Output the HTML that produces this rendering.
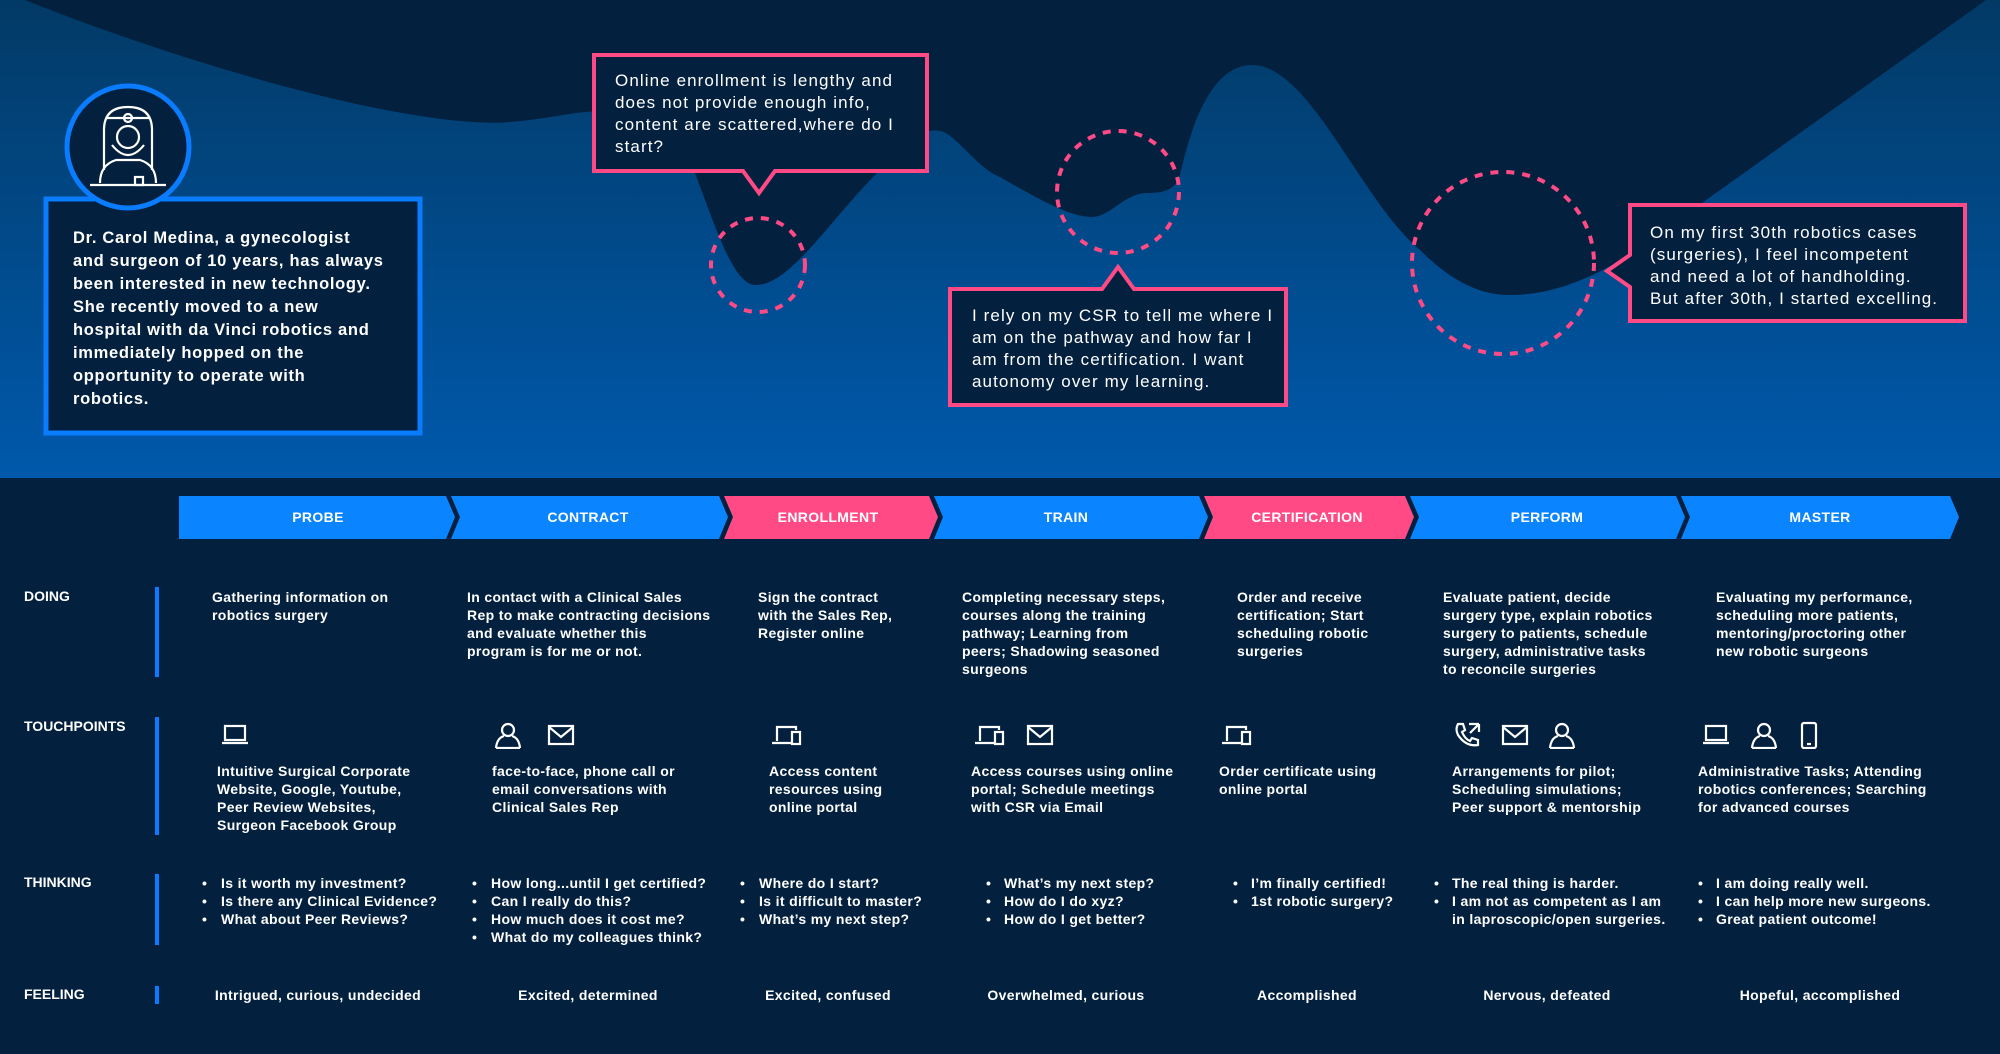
<!DOCTYPE html>
<html><head><meta charset="utf-8"><style>
html,body{margin:0;padding:0;background:#03213f;}
svg{display:block;font-family:"Liberation Sans",sans-serif;}
.s{fill:#fff;font-size:14px;font-weight:bold;letter-spacing:0.35px;}
.c{fill:#fff;font-size:17px;letter-spacing:1.1px;}
.p{fill:#fff;font-size:16.5px;font-weight:bold;letter-spacing:0.7px;}
.h{fill:#fff;font-size:14px;text-anchor:middle;font-weight:bold;letter-spacing:0.35px;}
.rl{fill:#fff;font-size:14px;font-weight:bold;}
.ic{fill:none;stroke:#fff;stroke-width:2.2;}
</style></head><body>
<svg width="2000" height="1054" viewBox="0 0 2000 1054">
<defs>
<linearGradient id="g" x1="0" y1="0" x2="0" y2="1">
<stop offset="0" stop-color="#023a66"/><stop offset="1" stop-color="#0059ac"/></linearGradient>
<symbol id="laptop" viewBox="0 0 30 28"><rect x="5" y="5" width="20" height="14" class="ic"/><line x1="2" y1="22" x2="28" y2="22" class="ic"/></symbol>
<symbol id="mail" viewBox="0 0 30 28"><rect x="3" y="5" width="24" height="18" class="ic"/><polyline points="3,6 15,16 27,6" class="ic"/></symbol>
<symbol id="person" viewBox="0 0 30 28"><circle cx="15" cy="9" r="6" class="ic"/><path d="M3 27 Q4 17 11 15 M27 27 Q26 17 19 15 M3 27 H27" class="ic"/></symbol>
<symbol id="devices" viewBox="0 0 34 28"><path d="M7 20 V6 H26 V9 M2 22 H21" class="ic"/><rect x="22" y="11" width="8" height="12" class="ic"/></symbol>
<symbol id="phone" viewBox="0 0 30 28"><rect x="8" y="2" width="14" height="25" rx="2" class="ic"/><line x1="13" y1="23" x2="17" y2="23" class="ic"/></symbol>
<symbol id="call" viewBox="0 0 30 28"><path d="M6 3 L11 3 L13 9 L10 11 Q13 18 18 20 L20 17 L26 19 L26 24 Q14 26 6 14 Q3 8 6 3 Z" class="ic"/><path d="M17 3 L27 3 M27 3 L27 11 M27 3 L18 12" class="ic"/></symbol>
</defs>

<rect x="0" y="0" width="2000" height="479" fill="url(#g)"/>
<path fill="#03213f" d="M25 0 C200 70 420 130 510 122 C560 118 580 108 620 112 L695 173 C720 240 735 285 756 285 C790 285 830 220 877 173 C910 140 925 125 944 132 C960 140 980 170 1000 177 C1040 200 1070 217 1092 217 C1110 217 1125 193 1147 193 C1165 193 1175 190 1180 175 C1190 130 1210 65 1252 65 C1310 65 1360 200 1420 250 C1460 290 1490 295 1510 295 C1580 295 1640 250 1702 203 L2000 -10 L2000 0 Z"/>
<rect x="0" y="478" width="2000" height="2" fill="#03213f"/>

<rect x="46" y="199" width="374" height="234" fill="#03213f" stroke="#0a7cff" stroke-width="5"/>
<circle cx="128" cy="147" r="61" fill="#03213f" stroke="#0a7cff" stroke-width="5"/>
<g class="ic" stroke-width="2">
<path d="M104 130 Q104 107 128 107 Q152 107 152 130 V170 M104 130 V170"/>
<circle cx="128" cy="118" r="4"/><line x1="106" y1="118" x2="150" y2="118"/>
<circle cx="128" cy="137" r="11"/>
<path d="M112 145 Q128 165 144 145"/>
<path d="M100 183 Q100 165 116 160 L140 160 Q156 165 156 183"/>
<line x1="90" y1="185" x2="166" y2="185"/><rect x="135" y="177" width="8" height="8"/>
</g>
<text class="p">
<tspan x="73" y="243">Dr. Carol Medina, a gynecologist</tspan>
<tspan x="73" y="266">and surgeon of 10 years, has always</tspan>
<tspan x="73" y="289">been interested in new technology.</tspan>
<tspan x="73" y="312">She recently moved to a new</tspan>
<tspan x="73" y="335">hospital with da Vinci robotics and</tspan>
<tspan x="73" y="358">immediately hopped on the</tspan>
<tspan x="73" y="381">opportunity to operate with</tspan>
<tspan x="73" y="404">robotics.</tspan></text>

<circle cx="758" cy="265" r="47" fill="none" stroke="#ff4a86" stroke-width="4" stroke-dasharray="8 8"/>
<path d="M594 55 H927 V171 H775 L759 193 L743 171 H594 Z" fill="#03213f" stroke="#ff4a86" stroke-width="4"/>
<text class="c">
<tspan x="615" y="86">Online enrollment is lengthy and</tspan>
<tspan x="615" y="108">does not provide enough info,</tspan>
<tspan x="615" y="130">content are scattered,where do I</tspan>
<tspan x="615" y="152">start?</tspan></text>

<circle cx="1118" cy="192" r="61" fill="none" stroke="#ff4a86" stroke-width="4" stroke-dasharray="8 8"/>
<path d="M950 289 H1102 L1118 267 L1134 289 H1286 V405 H950 Z" fill="#03213f" stroke="#ff4a86" stroke-width="4"/>
<text class="c">
<tspan x="972" y="321">I rely on my CSR to tell me where I</tspan>
<tspan x="972" y="343">am on the pathway and how far I</tspan>
<tspan x="972" y="365">am from the certification. I want</tspan>
<tspan x="972" y="387">autonomy over my learning.</tspan></text>

<circle cx="1503" cy="263" r="91" fill="none" stroke="#ff4a86" stroke-width="4" stroke-dasharray="8 8"/>
<path d="M1630 205 H1965 V321 H1630 V287 L1607 271 L1630 255 Z" fill="#03213f" stroke="#ff4a86" stroke-width="4"/>
<text class="c">
<tspan x="1650" y="238">On my first 30th robotics cases</tspan>
<tspan x="1650" y="260">(surgeries), I feel incompetent</tspan>
<tspan x="1650" y="282">and need a lot of handholding.</tspan>
<tspan x="1650" y="304">But after 30th, I started excelling.</tspan></text>

<g>
<path d="M179 496 H446 L455 517 L446 539 H179 Z" fill="#0a84ff"/>
<path d="M451 496 H719 L728 517 L719 539 H451 L460 517 Z" fill="#0a84ff"/>
<path d="M724 496 H929 L938 517 L929 539 H724 L733 517 Z" fill="#ff4a86"/>
<path d="M934 496 H1199 L1208 517 L1199 539 H934 L943 517 Z" fill="#0a84ff"/>
<path d="M1204 496 H1405 L1414 517 L1405 539 H1204 L1213 517 Z" fill="#ff4a86"/>
<path d="M1410 496 H1676 L1685 517 L1676 539 H1410 L1419 517 Z" fill="#0a84ff"/>
<path d="M1681 496 H1950 L1959 517 L1950 539 H1681 L1690 517 Z" fill="#0a84ff"/>
<text class="h" x="318" y="522">PROBE</text>
<text class="h" x="588" y="522">CONTRACT</text>
<text class="h" x="828" y="522">ENROLLMENT</text>
<text class="h" x="1066" y="522">TRAIN</text>
<text class="h" x="1307" y="522">CERTIFICATION</text>
<text class="h" x="1547" y="522">PERFORM</text>
<text class="h" x="1820" y="522">MASTER</text>
</g>

<text class="rl" x="24" y="601">DOING</text>
<text class="rl" x="24" y="731">TOUCHPOINTS</text>
<text class="rl" x="24" y="887">THINKING</text>
<text class="rl" x="24" y="999">FEELING</text>
<rect x="155" y="587" width="4" height="90" fill="#0a7cff"/>
<rect x="155" y="717" width="4" height="118" fill="#0a7cff"/>
<rect x="155" y="874" width="4" height="71" fill="#0a7cff"/>
<rect x="155" y="986" width="4" height="18" fill="#0a7cff"/>

<g class="s">
<text><tspan x="212" y="602">Gathering information on</tspan><tspan x="212" y="620">robotics surgery</tspan></text>
<text><tspan x="467" y="602">In contact with a Clinical Sales</tspan><tspan x="467" y="620">Rep to make contracting decisions</tspan><tspan x="467" y="638">and evaluate whether this</tspan><tspan x="467" y="656">program is for me or not.</tspan></text>
<text><tspan x="758" y="602">Sign the contract</tspan><tspan x="758" y="620">with the Sales Rep,</tspan><tspan x="758" y="638">Register online</tspan></text>
<text><tspan x="962" y="602">Completing necessary steps,</tspan><tspan x="962" y="620">courses along the training</tspan><tspan x="962" y="638">pathway; Learning from</tspan><tspan x="962" y="656">peers; Shadowing seasoned</tspan><tspan x="962" y="674">surgeons</tspan></text>
<text><tspan x="1237" y="602">Order and receive</tspan><tspan x="1237" y="620">certification; Start</tspan><tspan x="1237" y="638">scheduling robotic</tspan><tspan x="1237" y="656">surgeries</tspan></text>
<text><tspan x="1443" y="602">Evaluate patient, decide</tspan><tspan x="1443" y="620">surgery type, explain robotics</tspan><tspan x="1443" y="638">surgery to patients, schedule</tspan><tspan x="1443" y="656">surgery, administrative tasks</tspan><tspan x="1443" y="674">to reconcile surgeries</tspan></text>
<text><tspan x="1716" y="602">Evaluating my performance,</tspan><tspan x="1716" y="620">scheduling more patients,</tspan><tspan x="1716" y="638">mentoring/proctoring other</tspan><tspan x="1716" y="656">new robotic surgeons</tspan></text>
</g>

<g>
<use href="#laptop" x="220" y="721" width="30" height="28"/>
<use href="#person" x="493" y="721" width="30" height="28"/>
<use href="#mail" x="546" y="721" width="30" height="28"/>
<use href="#devices" x="770" y="721" width="34" height="28"/>
<use href="#devices" x="973" y="721" width="34" height="28"/>
<use href="#mail" x="1025" y="721" width="30" height="28"/>
<use href="#devices" x="1220" y="721" width="34" height="28"/>
<use href="#call" x="1452" y="721" width="30" height="28"/>
<use href="#mail" x="1500" y="721" width="30" height="28"/>
<use href="#person" x="1547" y="721" width="30" height="28"/>
<use href="#laptop" x="1701" y="721" width="30" height="28"/>
<use href="#person" x="1749" y="721" width="30" height="28"/>
<use href="#phone" x="1794" y="721" width="30" height="28"/>
</g>
<g class="s">
<text><tspan x="217" y="776">Intuitive Surgical Corporate</tspan><tspan x="217" y="794">Website, Google, Youtube,</tspan><tspan x="217" y="812">Peer Review Websites,</tspan><tspan x="217" y="830">Surgeon Facebook Group</tspan></text>
<text><tspan x="492" y="776">face-to-face, phone call or</tspan><tspan x="492" y="794">email conversations with</tspan><tspan x="492" y="812">Clinical Sales Rep</tspan></text>
<text><tspan x="769" y="776">Access content</tspan><tspan x="769" y="794">resources using</tspan><tspan x="769" y="812">online portal</tspan></text>
<text><tspan x="971" y="776">Access courses using online</tspan><tspan x="971" y="794">portal; Schedule meetings</tspan><tspan x="971" y="812">with CSR via Email</tspan></text>
<text><tspan x="1219" y="776">Order certificate using</tspan><tspan x="1219" y="794">online portal</tspan></text>
<text><tspan x="1452" y="776">Arrangements for pilot;</tspan><tspan x="1452" y="794">Scheduling simulations;</tspan><tspan x="1452" y="812">Peer support &amp; mentorship</tspan></text>
<text><tspan x="1698" y="776">Administrative Tasks; Attending</tspan><tspan x="1698" y="794">robotics conferences; Searching</tspan><tspan x="1698" y="812">for advanced courses</tspan></text>
</g>

<g class="s">
<text><tspan x="202" y="888">•</tspan><tspan x="221" y="888">Is it worth my investment?</tspan><tspan x="202" y="906">•</tspan><tspan x="221" y="906">Is there any Clinical Evidence?</tspan><tspan x="202" y="924">•</tspan><tspan x="221" y="924">What about Peer Reviews?</tspan></text>
<text><tspan x="472" y="888">•</tspan><tspan x="491" y="888">How long...until I get certified?</tspan><tspan x="472" y="906">•</tspan><tspan x="491" y="906">Can I really do this?</tspan><tspan x="472" y="924">•</tspan><tspan x="491" y="924">How much does it cost me?</tspan><tspan x="472" y="942">•</tspan><tspan x="491" y="942">What do my colleagues think?</tspan></text>
<text><tspan x="740" y="888">•</tspan><tspan x="759" y="888">Where do I start?</tspan><tspan x="740" y="906">•</tspan><tspan x="759" y="906">Is it difficult to master?</tspan><tspan x="740" y="924">•</tspan><tspan x="759" y="924">What’s my next step?</tspan></text>
<text><tspan x="986" y="888">•</tspan><tspan x="1004" y="888">What’s my next step?</tspan><tspan x="986" y="906">•</tspan><tspan x="1004" y="906">How do I do xyz?</tspan><tspan x="986" y="924">•</tspan><tspan x="1004" y="924">How do I get better?</tspan></text>
<text><tspan x="1233" y="888">•</tspan><tspan x="1251" y="888">I’m finally certified!</tspan><tspan x="1233" y="906">•</tspan><tspan x="1251" y="906">1st robotic surgery?</tspan></text>
<text><tspan x="1434" y="888">•</tspan><tspan x="1452" y="888">The real thing is harder.</tspan><tspan x="1434" y="906">•</tspan><tspan x="1452" y="906">I am not as competent as I am</tspan><tspan x="1452" y="924">in laproscopic/open surgeries.</tspan></text>
<text><tspan x="1698" y="888">•</tspan><tspan x="1716" y="888">I am doing really well.</tspan><tspan x="1698" y="906">•</tspan><tspan x="1716" y="906">I can help more new surgeons.</tspan><tspan x="1698" y="924">•</tspan><tspan x="1716" y="924">Great patient outcome!</tspan></text>
</g>

<g class="h">
<text x="318" y="1000">Intrigued, curious, undecided</text>
<text x="588" y="1000">Excited, determined</text>
<text x="828" y="1000">Excited, confused</text>
<text x="1066" y="1000">Overwhelmed, curious</text>
<text x="1307" y="1000">Accomplished</text>
<text x="1547" y="1000">Nervous, defeated</text>
<text x="1820" y="1000">Hopeful, accomplished</text>
</g>
</svg>
</body></html>
